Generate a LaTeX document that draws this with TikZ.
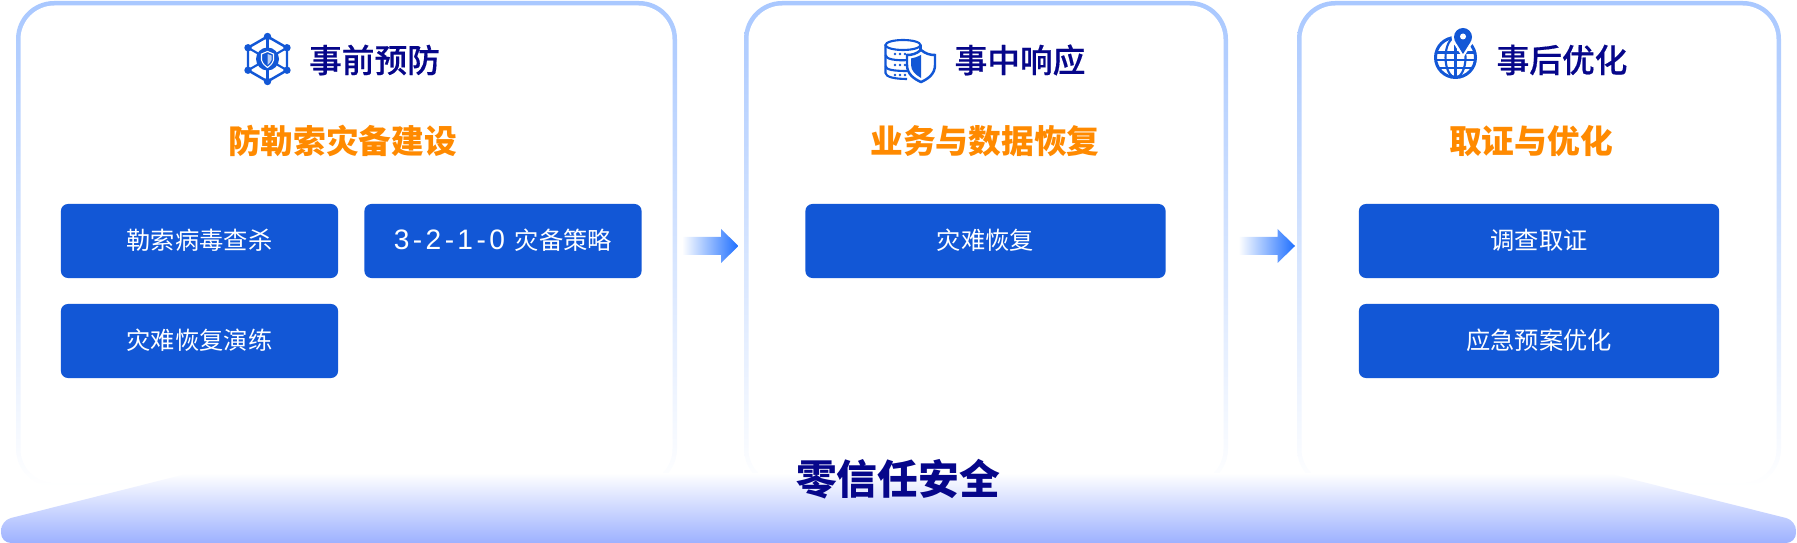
\documentclass[tikz,border=0pt]{standalone}
\usepackage{fontspec}
\setmainfont{Noto Sans CJK SC}
\newfontfamily\cjkmedium[FakeBold=0.4]{Noto Sans CJK SC Medium}
\newfontfamily\cjkblack{Noto Sans CJK SC Black}
\newfontfamily\digitfont[LetterSpace=12]{Liberation Sans}
\definecolor{panelblue}{HTML}{A9C8FF}
\definecolor{btnblue}{HTML}{1257D6}
\definecolor{headnavy}{HTML}{06068A}
\definecolor{titleorange}{HTML}{FF8A00}
\definecolor{arrowblue}{HTML}{1E6FFF}
\definecolor{baseblue}{HTML}{9DB1FF}
\tikzset{
  btn/.style={fill=btnblue,rounded corners=2pt,text=white,inner sep=0pt,
    text height=0.212cm,text depth=0.04cm,
    minimum height=0.74cm,font=\fontsize{6.9pt}{8pt}\selectfont},
  btnsmall/.style={btn,minimum width=2.77cm},
  btnwide/.style={btn,minimum width=3.6cm},
  headtext/.style={text=headnavy,inner sep=0pt,font=\fontsize{9.3pt}{11pt}\cjkmedium},
  subtitle/.style={text=titleorange,inner sep=0pt,font=\fontsize{9.3pt}{11pt}\bfseries},
  icon/.style={draw=btnblue,line width=0.6pt}
}
\begin{document}
\begin{tikzpicture}[x=0.01cm,y=-0.01cm]
  \useasboundingbox (0,0) rectangle (1797,543);

  \foreach \xa/\xb in {16/677,744/1228,1297/1781} {
    \shade[top color=panelblue,bottom color=white,rounded corners=0.38cm]
      (\xa,1) rectangle (\xb,487);
    \fill[white,rounded corners=0.34cm] (\xa+4.5,5.5) rectangle (\xb-4.5,483);
  }

  \shade[top color=white,bottom color=baseblue,rounded corners=0.1cm]
    (190,473) -- (1607,473) -- (1796,520.5) -- (1796,543) -- (1,543) -- (1,520.5) -- cycle;

  \node[headtext] (headpre) at (374.5,60) {事前预防};
  \node[headtext] (headmid) at (1020,60) {事中响应};
  \node[headtext] (headpost) at (1562,60) {事后优化};

  \node[subtitle] (subpre) at (342.5,141) {防勒索灾备建设};
  \node[subtitle] (submid) at (985,141) {业务与数据恢复};
  \node[subtitle] (subpost) at (1531,141) {取证与优化};

  \node[btnsmall] (scan) at (199.5,241) {勒索病毒查杀};
  \node[btnsmall] (policy) at (503,241) {{\fontsize{8pt}{8pt}\digitfont 3-2-1-0}\hspace{0.1cm}灾备策略};
  \node[btnsmall] (drill) at (199.5,341) {灾难恢复演练};
  \node[btnwide] (recover) at (985.5,241) {灾难恢复};
  \node[btnwide] (forensic) at (1539,241) {调查取证};
  \node[btnwide] (plan) at (1539,341) {应急预案优化};

  \node[text=headnavy,inner sep=0pt,font=\fontsize{11.6pt}{13pt}\cjkblack] (zero) at (898,479) {零信任安全};

  \foreach \xs in {682,1238.5} {
    \shade[left color=white,right color=arrowblue,shift={(\xs,0)}]
      (0,237) -- (39,237) -- (39,229) -- (56.5,246) -- (39,263) -- (39,255) -- (0,255) -- cycle;
  }

  \begin{scope}[shift={(267.5,59)}]
    \draw[icon,line width=0.7pt] (90:22.5) -- (30:22.5) -- (-30:22.5) -- (-90:22.5) -- (-150:22.5) -- (150:22.5) -- cycle;
    \foreach \a in {30,90,150,210,270,330} {
      \fill[btnblue] (\a:22.5) circle (3.7);
      \draw[icon] (\a:11) -- (\a:22.5);
    }
    \fill[btnblue] (0,0) circle (11.5);
    \draw[white,line width=0.3pt] (-6,-5) -- (0,-7.5) -- (6,-5) -- (6,1) .. controls (5,5) and (2,7) .. (0,8.5)
      .. controls (-2,7) and (-5,5) .. (-6,1) -- cycle;
    \fill[white!70!btnblue] (0,-5) -- (4,-3.5) -- (4,1) .. controls (3,4) and (1,5) .. (0,6) -- cycle;
  \end{scope}

  \begin{scope}[shift={(903,45)}]
    \draw[icon] (0,0) ellipse (17.5 and 5);
    \draw[icon] (-17.5,0) -- (-17.5,28) .. controls (-17.5,32) and (-8,34) .. (4,34);
    \draw[icon] (17.5,0) -- (17.5,6);
    \draw[icon] (-17.5,10) .. controls (-17.5,14) and (-8,16) .. (6,15);
    \draw[icon] (-17.5,21) .. controls (-17.5,25) and (-8,26) .. (4,26);
    \foreach \yy in {9,20,30} {
      \foreach \xx in {-8,-3,2} {
        \fill[btnblue] (\xx,\yy) circle (1.3);
      }
    }
    \draw[icon,fill=white,line width=0.7pt] (18,5) .. controls (23,9) and (27,10) .. (32,10) -- (32,20)
      .. controls (32,29) and (25,34) .. (18,37) .. controls (11,34) and (4,29) .. (4,20) -- (4,10)
      .. controls (9,10) and (13,9) .. (18,5) -- cycle;
    \fill[btnblue] (18,10) .. controls (14,12) and (11,13) .. (8,13.5) -- (8,20)
      .. controls (8,26) and (13,30) .. (18,33) -- cycle;
  \end{scope}

  \begin{scope}[shift={(1455.5,57.5)}]
    \draw[icon,line width=0.85pt] (0,0) circle (20);
    \draw[icon] (0,0) ellipse (10 and 20);
    \draw[icon] (0,-20) -- (0,20);
    \draw[icon] (-19,-5) -- (19,-5);
    \draw[icon] (-19.5,2.5) -- (19.5,2.5);
    \draw[icon] (-17,10.5) -- (17,10.5);
    \fill[white] (7.5,-20.5) circle (11.5);
    \fill[white] (-2.2,-14.5) -- (17.2,-14.5) -- (7.5,0.5) -- cycle;
    \fill[btnblue] (7.5,-20.5) circle (9);
    \fill[btnblue] (-0.1,-15.7) -- (15.1,-15.7) -- (7.5,-3.5) -- cycle;
    \fill[white] (7.5,-21) circle (3);
  \end{scope}
\end{tikzpicture}
\end{document}
